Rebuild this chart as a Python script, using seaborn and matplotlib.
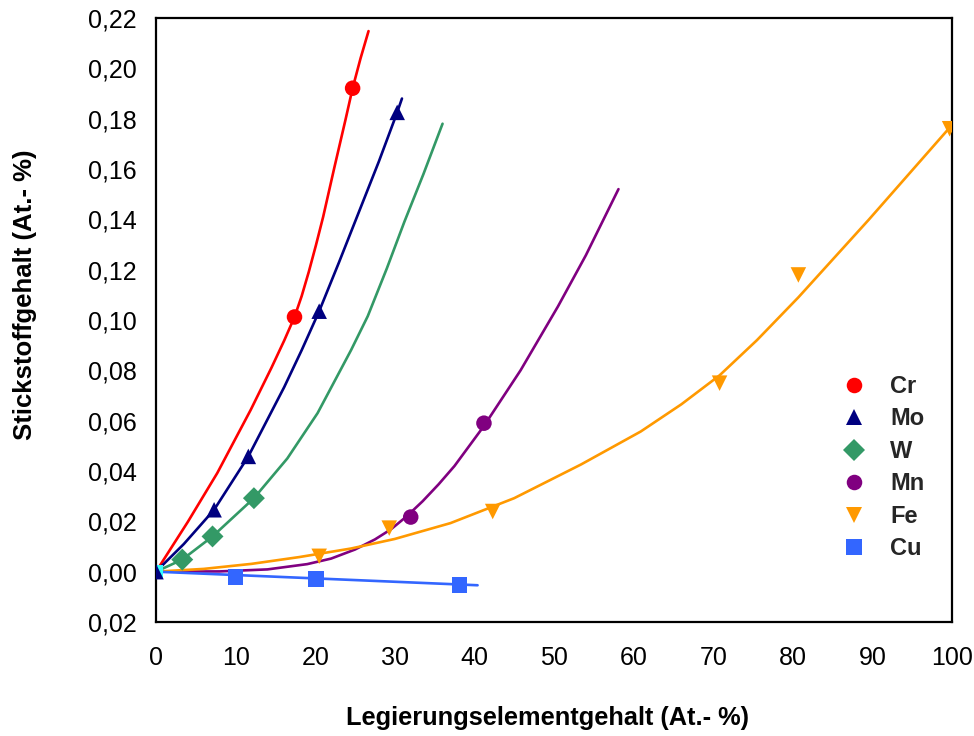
import matplotlib
matplotlib.use("Agg")
import matplotlib.pyplot as plt
import pandas as pd
import seaborn as sns

# ---------------- data ----------------
elements = ["Cr", "Mo", "W", "Mn", "Fe", "Cu"]
colors = ["#ff0000", "#000080", "#339966", "#800080", "#ff9900", "#3366ff"]
marker_shapes = ["o", "^", "D", "o", "v", "s"]

# measured points (markers)
cr_x = [17.4, 24.7]
cr_y = [0.1012, 0.1921]
mo_x = [0.0, 7.3, 11.6, 20.5, 30.3]
mo_y = [0.0, 0.0246, 0.0458, 0.1035, 0.1825]
w_x = [3.3, 7.1, 12.3]
w_y = [0.0048, 0.0140, 0.0292]
mn_x = [32.0, 41.2]
mn_y = [0.0217, 0.0590]
fe_x = [20.5, 29.3, 42.3, 70.8, 80.7, 99.7]
fe_y = [0.0061, 0.0173, 0.0239, 0.0749, 0.1179, 0.1760]
cu_x = [10.0, 20.1, 38.1]
cu_y = [-0.0021, -0.0029, -0.0052]
origin_x = [0.0]
origin_y = [0.0]

# fitted curves
cr_cx = [0.0, 4.0, 7.7, 11.9, 14.5, 16.1, 17.4, 18.3, 19.2, 20.1, 21.0, 22.4, 23.8, 24.7, 25.7, 26.7]
cr_cy = [0.0, 0.0198, 0.0392, 0.0643, 0.0810, 0.0918, 0.1012, 0.1095, 0.1192, 0.1298, 0.1410,
         0.1605, 0.1795, 0.1921, 0.2040, 0.2148]
mo_cx = [0.0, 3.5, 7.3, 11.6, 16.1, 18.3, 20.5, 23.0, 25.5, 28.0, 30.3, 30.9]
mo_cy = [0.0, 0.0110, 0.0246, 0.0458, 0.0733, 0.0880, 0.1035, 0.1230, 0.1430, 0.1630,
         0.1825, 0.1880]
w_cx = [0.0, 3.3, 7.1, 12.3, 16.5, 20.3, 24.5, 26.6, 29.0, 31.2, 33.6, 36.0]
w_cy = [0.0, 0.0048, 0.0140, 0.0292, 0.0450, 0.0630, 0.0880, 0.1015, 0.1205, 0.1390,
        0.1580, 0.1780]
mn_cx = [0.0, 8.0, 14.0, 19.0, 22.0, 25.0, 27.5, 29.5, 31.5, 33.5, 35.5, 37.5, 41.2,
         45.8, 50.5, 54.0, 58.1]
mn_cy = [0.0, 0.0001, 0.0009, 0.0030, 0.0052, 0.0088, 0.0128, 0.0168, 0.0220, 0.0280,
         0.0347, 0.0420, 0.0579, 0.0800, 0.1054, 0.1257, 0.1520]
fe_cx = [0.0, 6.0, 12.0, 18.0, 24.5, 30.0, 37.0, 45.0, 53.4, 60.9, 66.0, 70.8, 75.5,
         80.7, 85.0, 89.5, 95.0, 100.0]
fe_cy = [0.0, 0.0011, 0.0031, 0.0058, 0.0092, 0.0130, 0.0193, 0.0292, 0.0426, 0.0557,
         0.0665, 0.0780, 0.0920, 0.1090, 0.1240, 0.1397, 0.1595, 0.1775]
cu_cx = [0.0, 40.4]
cu_cy = [0.0, -0.0054]

x_ticks = [0, 10, 20, 30, 40, 50, 60, 70, 80, 90, 100]
y_ticks = [-0.02, 0.0, 0.02, 0.04, 0.06, 0.08, 0.10, 0.12, 0.14, 0.16, 0.18, 0.20, 0.22]
y_tick_labels = ["0,02", "0,00", "0,02", "0,04", "0,06", "0,08", "0,10",
                 "0,12", "0,14", "0,16", "0,18", "0,20", "0,22"]
x_label = "Legierungselementgehalt (At.- %)"
y_label = "Stickstoffgehalt (At.- %)"

# ---------------- tables ----------------
pts_x = [cr_x, mo_x, w_x, mn_x, fe_x, cu_x]
pts_y = [cr_y, mo_y, w_y, mn_y, fe_y, cu_y]
crv_x = [cr_cx, mo_cx, w_cx, mn_cx, fe_cx, cu_cx]
crv_y = [cr_cy, mo_cy, w_cy, mn_cy, fe_cy, cu_cy]

pts = pd.concat([pd.DataFrame({"x": xs, "y": ys, "Element": e})
                 for e, xs, ys in zip(elements, pts_x, pts_y)], ignore_index=True)
crv = pd.concat([pd.DataFrame({"x": xs, "y": ys, "Element": e})
                 for e, xs, ys in zip(elements, crv_x, crv_y)], ignore_index=True)
palette = dict(zip(elements, colors))
mk = dict(zip(elements, marker_shapes))

# ---------------- plot ----------------
sns.set_theme(style="white")
plt.rcParams["font.family"] = ["Liberation Sans", "DejaVu Sans"]

fig = plt.figure(figsize=(9.74, 7.36), dpi=100)
ax = fig.add_axes([156 / 974, 1 - 622 / 736, (952 - 156) / 974, (622 - 18) / 736])

sns.lineplot(data=crv, x="x", y="y", hue="Element", hue_order=elements,
             palette=palette, units="Element", estimator=None, sort=False,
             linewidth=1.9, legend=False, ax=ax, zorder=2)
ax.scatter(origin_x, origin_y, marker="s", s=110, color="#33ffff", zorder=2.5, linewidths=0)
sns.scatterplot(data=pts, x="x", y="y", hue="Element", style="Element",
                hue_order=elements, style_order=elements, palette=palette,
                markers=mk, s=125, linewidth=0, ax=ax, zorder=3)

ax.set_xlim(0, 100)
ax.set_ylim(-0.02, 0.22)
ax.set_xticks(x_ticks)
ax.set_xticklabels([str(v) for v in x_ticks])
ax.set_yticks(y_ticks)
ax.set_yticklabels(y_tick_labels)
ax.tick_params(axis="both", direction="in", length=10, width=1.5, color="black",
               labelsize=18, labelcolor="black")
ax.tick_params(axis="x", pad=17)
ax.tick_params(axis="y", pad=14)
for sp in ax.spines.values():
    sp.set_visible(True)
    sp.set_color("black")
    sp.set_linewidth(1.6)

ax.set_xlabel(x_label, fontsize=18.3, fontweight="bold", color="black")
ax.set_ylabel(y_label, fontsize=18.5, fontweight="bold", color="black")
ax.xaxis.label.set_va("center")
ax.yaxis.label.set_va("center")
ax.xaxis.set_label_coords((547 - 156) / 796, -(718 - 622) / 604)
ax.yaxis.set_label_coords(-(156 - 25) / 796, (622 - 295) / 604)

leg = ax.legend(loc="upper left", bbox_to_anchor=(842 / 974, 1 - 375 / 736),
                bbox_transform=fig.transFigure, frameon=False, borderpad=0,
                borderaxespad=0, handlelength=1.0, handletextpad=1.03,
                labelspacing=0.40, prop={"weight": "bold", "size": 17},
                markerscale=1.0)
for h in leg.legend_handles:
    try:
        h.set_sizes([115])
    except AttributeError:
        pass

fig.savefig("out.png", dpi=100)
